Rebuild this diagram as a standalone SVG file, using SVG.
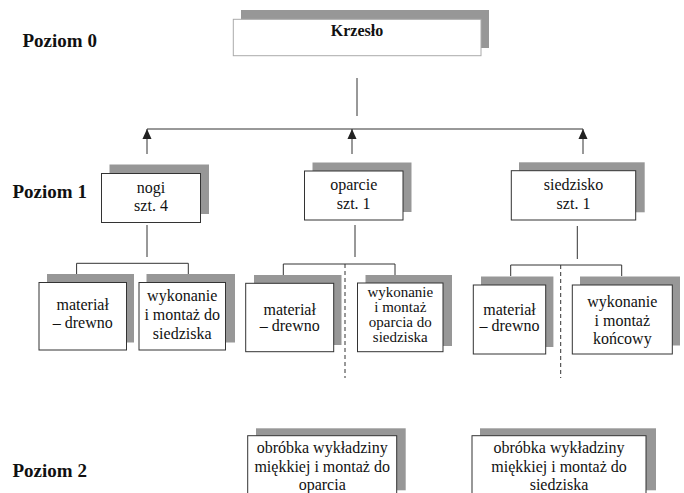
<svg xmlns="http://www.w3.org/2000/svg" width="684" height="493" viewBox="0 0 684 493">
<style>
.sh{fill:#979797}
.bx{fill:#fff;stroke:#333;stroke-width:1}
.bx0{fill:#fff;stroke:#aaa;stroke-width:1}
text{font-family:"Liberation Serif","Times New Roman",serif;fill:#111}
.t{font-size:16px;text-anchor:middle}
.ts{font-size:15px;text-anchor:middle}
.tb{font-size:16px;font-weight:bold;text-anchor:middle}
.lbl{font-size:19px;font-weight:bold}
.ln{stroke:#333;stroke-width:1;fill:none}
.dash{stroke-dasharray:4 3}
</style>
<defs>
<marker id="ah" markerUnits="userSpaceOnUse" markerWidth="10" markerHeight="11" refX="11" refY="5" orient="auto" viewBox="0 0 11 10">
<path d="M0,0 L11,5 L0,10 z" fill="#222"/>
</marker>
</defs>
<g id="labels">
<text class="lbl" x="22.5" y="46.5">Poziom 0</text>
<text class="lbl" x="12.5" y="198">Poziom 1</text>
<text class="lbl" x="12.5" y="477">Poziom 2</text>
</g>
<g id="connectors">
<line class="ln" x1="357" y1="78" x2="357" y2="116"/>
<line class="ln" x1="147" y1="129" x2="583" y2="129"/>
<line class="ln" x1="147" y1="154" x2="147" y2="129" marker-end="url(#ah)"/>
<line class="ln" x1="352" y1="154" x2="352" y2="129" marker-end="url(#ah)"/>
<line class="ln" x1="583" y1="154" x2="583" y2="129" marker-end="url(#ah)"/>
<line class="ln" x1="147" y1="225" x2="147" y2="257"/>
<line class="ln" x1="355" y1="225" x2="355" y2="257"/>
<line class="ln" x1="577.3" y1="226" x2="577.3" y2="259"/>
<path class="ln" d="M76.6,274 V263.3 H188.3 V274"/>
<path class="ln" d="M283.3,275 V264 H395 V275"/>
<path class="ln" d="M510.7,276 V265 H621.7 V276"/>
<line class="ln dash" x1="345" y1="264" x2="345" y2="378"/>
<line class="ln dash" x1="560.7" y1="265" x2="560.7" y2="378"/>
</g>
<g id="krzeslo">
<rect class="sh" x="241" y="10" width="248" height="38"/>
<rect class="bx0" x="233.3" y="19.3" width="247.7" height="36.4"/>
<text class="tb" x="357" y="36">Krzesło</text>
</g>
<g id="nogi">
<rect class="sh" x="109.5" y="164.5" width="99.5" height="49.5"/>
<rect class="bx" x="101.5" y="173.5" width="99" height="49"/>
<text class="t" x="151" y="192.5">nogi</text>
<text class="t" x="151" y="211">szt. 4</text>
</g>
<g id="oparcie">
<rect class="sh" x="312.5" y="162.5" width="99" height="49.5"/>
<rect class="bx" x="304.5" y="171" width="98.5" height="49"/>
<text class="t" x="353.7" y="189.5">oparcie</text>
<text class="t" x="353.7" y="208.5">szt. 1</text>
</g>
<g id="siedzisko">
<rect class="sh" x="519" y="162.3" width="125.7" height="50"/>
<rect class="bx" x="511.3" y="170.7" width="124.4" height="49.3"/>
<text class="t" x="573.5" y="189.5">siedzisko</text>
<text class="t" x="573.5" y="209">szt. 1</text>
</g>
<g id="nogi-material">
<rect class="sh" x="47" y="274" width="87" height="68.5"/>
<rect class="bx" x="39" y="282.5" width="87.5" height="67.5"/>
<text class="t" x="82.7" y="310">materiał</text>
<text class="t" x="82.7" y="328">– drewno</text>
</g>
<g id="nogi-wykonanie">
<rect class="sh" x="146.5" y="274" width="88.5" height="68.5"/>
<rect class="bx" x="139" y="282.5" width="86.5" height="67.5"/>
<text class="t" x="182.2" y="301">wykonanie</text>
<text class="t" x="182.2" y="320">i montaż do</text>
<text class="t" x="182.2" y="339">siedziska</text>
</g>
<g id="oparcie-material">
<rect class="sh" x="254" y="275" width="87.5" height="70"/>
<rect class="bx" x="245.7" y="283.3" width="88" height="68.4"/>
<text class="t" x="289.7" y="315">materiał</text>
<text class="t" x="289.7" y="331">– drewno</text>
</g>
<g id="oparcie-wykonanie">
<rect class="sh" x="365.5" y="275" width="86.5" height="71"/>
<rect class="bx" x="357.5" y="283" width="85.5" height="68.7"/>
<text class="ts" x="400.3" y="297">wykonanie</text>
<text class="ts" x="400.3" y="312">i montaż</text>
<text class="ts" x="400.3" y="327">oparcia do</text>
<text class="ts" x="400.3" y="342">siedziska</text>
</g>
<g id="siedzisko-material">
<rect class="sh" x="481" y="276.5" width="72.4" height="70.5"/>
<rect class="bx" x="473.3" y="285" width="72.4" height="69"/>
<text class="t" x="509.5" y="315">materiał</text>
<text class="t" x="509.5" y="331">– drewno</text>
</g>
<g id="siedzisko-wykonanie">
<rect class="sh" x="580" y="276.5" width="100" height="69"/>
<rect class="bx" x="572.3" y="285" width="100" height="69"/>
<text class="t" x="622.3" y="307">wykonanie</text>
<text class="t" x="622.3" y="325.5">i montaż</text>
<text class="t" x="622.3" y="344">końcowy</text>
</g>
<g id="obrobka-oparcia">
<rect class="sh" x="256" y="428.3" width="149.7" height="62"/>
<rect class="bx" x="247.7" y="435.7" width="149" height="70"/>
<text class="t" x="322.2" y="453">obróbka wykładziny</text>
<text class="t" x="322.2" y="472">miękkiej i montaż do</text>
<text class="t" x="322.2" y="490">oparcia</text>
</g>
<g id="obrobka-siedziska">
<rect class="sh" x="480" y="428.3" width="176" height="62"/>
<rect class="bx" x="472" y="435.7" width="174" height="70"/>
<text class="t" x="559" y="453">obróbka wykładziny</text>
<text class="t" x="559" y="472">miękkiej i montaż do</text>
<text class="t" x="559" y="490">siedziska</text>
</g>
</svg>
